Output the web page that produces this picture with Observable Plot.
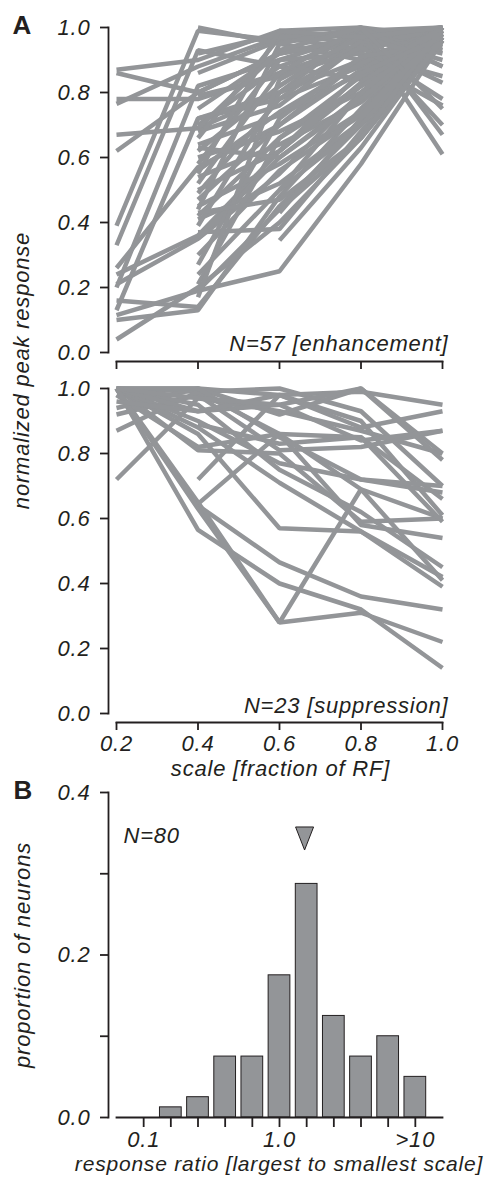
<!DOCTYPE html>
<html><head><meta charset="utf-8">
<script src="https://cdn.jsdelivr.net/npm/d3@7"></script>
<script src="https://cdn.jsdelivr.net/npm/@observablehq/plot@0.6"></script>
<style>
body{margin:0;background:#fff;}
#wrap{position:relative;width:493px;height:1177px;overflow:hidden;}
#wrap svg{position:absolute;left:0;}
</style></head><body><div id="wrap"></div>
<script>
// ---------- DATA ----------
const scales = [0.2, 0.4, 0.6, 0.8, 1.0];           // stimulus scale (fraction of RF)
const respTicks = [0, 0.2, 0.4, 0.6, 0.8, 1.0];

// normalized peak response per neuron at each scale (null = not measured)
const enhancement = [
  [0.87, 0.90, 0.99, 1.00, 0.97],
  [0.86, 0.80, 0.92, 0.97, 1.00],
  [0.78, 0.78, 0.86, 0.95, 1.00],
  [0.765, 0.88, 0.97, 0.93, 0.99],
  [0.67, 0.69, 0.80, 0.90, 0.98],
  [0.62, 0.80, 0.92, 0.96, 1.00],
  [0.39, 0.99, 0.96, 0.98, 1.00],
  [0.33, 0.93, 0.88, 0.97, 0.99],
  [0.26, 0.57, 0.70, 0.90, 1.00],
  [0.24, 0.36, 0.62, 0.82, 0.97],
  [0.21, 0.35, 0.55, 0.80, 1.00],
  [0.20, 0.82, 0.90, 0.98, 0.92],
  [0.16, 0.14, 0.45, 0.70, 0.98],
  [0.13, 0.72, 0.78, 0.88, 1.00],
  [0.115, 0.19, 0.25, 0.58, 0.96],
  [0.10, 0.13, 0.48, 0.75, 0.99],
  [0.04, 0.20, 0.40, 0.66, 0.97],
  [null, 0.86, 0.96, 0.99, 1.00],
  [null, 0.92, 0.98, 0.95, 0.83],
  [null, 1.00, 0.95, 0.90, 0.76],
  [null, 0.79, 0.85, 0.93, 1.00],
  [null, 0.75, 0.92, 0.97, 0.70],
  [null, 0.72, 0.80, 0.99, 0.88],
  [null, 0.70, 0.88, 0.84, 1.00],
  [null, 0.68, 0.76, 0.95, 0.99],
  [null, 0.66, 0.97, 0.99, 0.61],
  [null, 0.64, 0.73, 0.86, 1.00],
  [null, 0.62, 0.82, 0.98, 0.93],
  [null, 0.60, 0.68, 0.80, 0.98],
  [null, 0.58, 0.90, 0.92, 0.85],
  [null, 0.56, 0.74, 0.89, 1.00],
  [null, 0.54, 0.64, 0.77, 0.97],
  [null, 0.52, 0.86, 1.00, 0.67],
  [null, 0.50, 0.62, 0.83, 0.99],
  [null, 0.49, 0.78, 0.96, 0.94],
  [null, 0.47, 0.70, 0.87, 1.00],
  [null, 0.45, 0.58, 0.74, 0.98],
  [null, 0.44, 0.95, 1.00, 0.88],
  [null, 0.42, 0.66, 0.82, 0.96],
  [null, 0.41, 0.52, 0.71, 1.00],
  [null, 0.39, 0.80, 0.94, 0.78],
  [null, 0.37, 0.38, 0.68, 0.97],
  [null, 0.35, 0.60, 0.79, 0.99],
  [null, 0.30, 0.56, 0.73, 1.00],
  [null, 0.27, 0.72, 0.91, 0.95],
  [null, 0.24, 0.50, 0.70, 0.98],
  [null, 0.21, 0.66, 0.85, 1.00],
  [null, 0.19, 0.44, 0.66, 0.96],
  [null, 0.17, 0.84, 0.97, 0.90],
  [null, 0.55, 0.99, 0.97, 1.00],
  [null, 0.63, 0.60, 0.78, 0.99],
  [null, 0.69, 0.93, 1.00, 0.75],
  [null, 0.43, 0.47, 0.66, 1.00],
  [null, null, 0.345, 0.63, 0.97],
  [null, null, 0.50, 0.80, 1.00],
  [null, null, 0.62, 0.86, 0.97],
  [null, null, 0.43, 0.72, 0.99]
];

const suppression = [
  [1.00, 0.565, 0.40, 0.32, 0.14],
  [1.00, 0.64, 0.465, 0.36, 0.32],
  [1.00, 0.65, 0.28, 0.31, 0.22],
  [0.72, 0.97, 0.93, 0.87, 0.80],
  [null, 0.72, 0.98, 0.99, 0.95],
  [null, 0.645, 0.86, 0.69, 0.60],
  [1.00, 1.00, 0.98, 0.90, 0.61],
  [1.00, 0.99, 1.00, 0.93, 0.70],
  [0.94, 1.00, 0.92, 1.00, 0.80],
  [0.92, 0.98, 0.81, 0.82, 0.87],
  [0.87, 0.99, 0.86, 0.58, 0.54],
  [1.00, 0.81, 0.80, 0.59, 0.60],
  [1.00, 0.86, 0.57, 0.56, 0.42],
  [1.00, 0.88, 0.71, 0.56, 0.39],
  [1.00, 0.95, 0.75, 0.62, 0.45],
  [1.00, 0.90, 0.77, 0.72, 0.68],
  [1.00, 0.93, 0.95, 1.00, 0.78],
  [null, 0.89, 0.83, 0.85, 0.59],
  [0.98, 0.82, 0.86, 0.85, 0.66],
  [1.00, 0.63, 0.28, 0.69, 0.41],
  [1.00, 1.00, 0.85, 0.72, 0.70],
  [0.96, 0.93, 0.98, 0.88, 0.93],
  [1.00, 0.97, 0.95, 0.84, 0.87]
];

// histogram of response ratio (largest / smallest scale), log10 bin centres
const ratioBins = [-1.0, -0.8, -0.6, -0.4, -0.2, 0.0, 0.2, 0.4, 0.6, 0.8, 1.0];
const ratioCounts = [0, 1, 2, 6, 6, 14, 23, 10, 6, 8, 4];
const ratioTicks = [-1, 0, 1];
const ratioTickLabels = ["0.1", "1.0", ">10"];
const medianRatio = [1.53];
const proportionTicks = [0, 0.1, 0.2, 0.3, 0.4];

// ---------- DRAWING ----------
const INK = "#231f20", GRAY = "#939598";
const baseStyle = "overflow:visible;background:transparent;font-family:'Liberation Sans',Arial,sans-serif;font-size:22px;font-style:italic;letter-spacing:0.8px;color:#231f20;";
const wrap = document.getElementById("wrap");

function tidy(rows) {
  const out = [];
  rows.forEach((r, i) => r.forEach((v, j) => { if (v != null) out.push({id: i, scale: scales[j], resp: v}); }));
  return out;
}
const lineOpts = {x: "scale", y: "resp", z: "id", stroke: GRAY, strokeWidth: 4.5, strokeLinejoin: "miter", strokeLinecap: "butt"};

function place(svg, top) { svg.style.top = top + "px"; wrap.appendChild(svg); }

// Panel A, enhancement
const p1 = Plot.plot({
  width: 493, height: 372, marginLeft: 108, marginRight: 51, marginTop: 27, marginBottom: 11,
  x: {domain: [0.2, 1.0], insetLeft: 8},
  y: {domain: [0, 1], insetBottom: 9},
  style: baseStyle,
  marks: [
    Plot.line(tidy(enhancement), lineOpts),
    Plot.frame({anchor: "left", insetBottom: 9, stroke: INK, strokeWidth: 1.8}),
    Plot.frame({anchor: "bottom", insetLeft: 8, stroke: INK, strokeWidth: 1.8}),
    Plot.axisY({ticks: respTicks, tickSize: 8, tickPadding: 10, tickFormat: ".1f", label: null, strokeWidth: 1.8, color: INK}),
    Plot.axisX({ticks: scales, tickSize: 8, tickFormat: () => "", label: null, strokeWidth: 1.8, color: INK}),
    Plot.text([`N=${enhancement.length} [enhancement]`], {text: d => d, frameAnchor: "bottom-right", textAnchor: "end", lineAnchor: "top", dx: 6, dy: -26, fill: INK}),
    Plot.text(["A"], {text: d => d, frameAnchor: "top-left", textAnchor: "start", lineAnchor: "top", dx: -96, dy: -12, fontWeight: "bold", fontStyle: "normal", fontSize: 26, fill: INK}),
    Plot.text(["normalized peak response"], {text: d => d, frameAnchor: "left", rotate: -90, dx: -87, dy: 176, textAnchor: "middle", lineAnchor: "middle", fill: INK})
  ]
});
place(p1, 0);

// Panel A, suppression
const p2 = Plot.plot({
  width: 493, height: 408, marginLeft: 108, marginRight: 51, marginTop: 16, marginBottom: 58,
  x: {domain: [0.2, 1.0], insetLeft: 8},
  y: {domain: [0, 1], insetBottom: 9},
  style: baseStyle,
  marks: [
    Plot.line(tidy(suppression), lineOpts),
    Plot.frame({anchor: "left", insetBottom: 9, stroke: INK, strokeWidth: 1.8}),
    Plot.frame({anchor: "bottom", insetLeft: 8, stroke: INK, strokeWidth: 1.8}),
    Plot.axisY({ticks: respTicks, tickSize: 8, tickPadding: 10, tickFormat: ".1f", label: null, strokeWidth: 1.8, color: INK}),
    Plot.axisX({ticks: scales, tickSize: 8, tickPadding: 5, tickFormat: ".1f", label: null, strokeWidth: 1.8, color: INK}),
    Plot.text([`N=${suppression.length} [suppression]`], {text: d => d, frameAnchor: "bottom-right", textAnchor: "end", lineAnchor: "top", dx: 6, dy: -25, fill: INK}),
    Plot.text(["scale [fraction of RF]"], {text: d => d, frameAnchor: "bottom", textAnchor: "middle", lineAnchor: "top", dx: 5, dy: 38, fill: INK})
  ]
});
place(p2, 372);

// Panel B, histogram
const total = d3.sum(ratioCounts);
const bins = ratioBins.map((c, i) => ({c, p: ratioCounts[i] / total}));
const ratioAxisTicks = d3.range(-1, 1.0001, 0.2);
const downTri = {
  draw(ctx, size) {
    const s = Math.sqrt(size);
    const hw = s / 2, hh = s * 0.64;
    ctx.moveTo(-hw, -hh); ctx.lineTo(hw, -hh); ctx.lineTo(0, hh); ctx.closePath();
  }
};
const p3 = Plot.plot({
  width: 493, height: 397, marginLeft: 108, marginRight: 51, marginTop: 12, marginBottom: 60,
  x: {domain: [-1.2, 1.2], insetLeft: 8},
  y: {domain: [0, 0.4]},
  style: baseStyle,
  marks: [
    Plot.rectY(bins, {x1: d => d.c - 0.08, x2: d => d.c + 0.08, y: "p", fill: GRAY, stroke: INK, strokeWidth: 1}),
    Plot.frame({anchor: "left", stroke: INK, strokeWidth: 1.8}),
    Plot.frame({anchor: "bottom", insetLeft: 8, stroke: INK, strokeWidth: 1.8}),
    Plot.axisY({ticks: proportionTicks, tickSize: 8, tickPadding: 10, tickFormat: d => Math.round(d * 10) % 2 === 0 ? d.toFixed(1) : "", label: null, strokeWidth: 1.8, color: INK}),
    Plot.axisX({ticks: ratioAxisTicks, tickSize: 10, tickPadding: 4,
      tickFormat: d => { const k = ratioTicks.findIndex(t => Math.abs(t - d) < 1e-9); return k >= 0 ? ratioTickLabels[k] : ""; },
      label: null, strokeWidth: 1.8, color: INK}),
    Plot.dot(medianRatio, {x: d => Math.log10(d), frameAnchor: "top", dy: 46, symbol: downTri, r: 10.155, fill: GRAY, stroke: INK, strokeWidth: 1}),
    Plot.text([`N=${total}`], {text: d => d, frameAnchor: "top-left", textAnchor: "start", lineAnchor: "top", dx: 15, dy: 35, fill: INK}),
    Plot.text(["B"], {text: d => d, frameAnchor: "top-left", textAnchor: "start", lineAnchor: "top", dx: -95, dy: -12, fontWeight: "bold", fontStyle: "normal", fontSize: 26, fill: INK}),
    Plot.text(["proportion of neurons"], {text: d => d, frameAnchor: "left", rotate: -90, dx: -86, textAnchor: "middle", lineAnchor: "middle", fill: INK}),
    Plot.text(["response ratio [largest to smallest scale]"], {text: d => d, frameAnchor: "bottom", textAnchor: "middle", lineAnchor: "top", dx: 3.5, dy: 39, fontSize: 21, letterSpacing: "1.1px", fill: INK})
  ]
});
place(p3, 780);
</script></body></html>
